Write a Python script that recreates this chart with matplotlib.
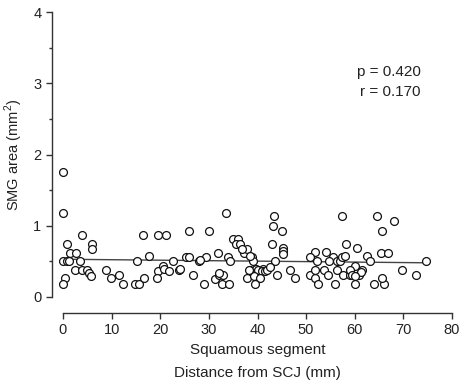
import matplotlib
matplotlib.use('Agg')
import matplotlib.pyplot as plt
import numpy as np

plt.rcParams['font.family'] = ['Liberation Sans', 'DejaVu Sans']
plt.rcParams['mathtext.fontset'] = 'custom'
plt.rcParams['mathtext.rm'] = 'Liberation Sans'

# distance from SCJ (mm) and SMG area (mm2)
dist = [0, 0, 3.9, 0.9, 6.0, 6.0, 1.4, 2.7, 0, 0.75, 1.2, 3.5, 2.4, 4.0, 4.9, 5.3,
        5.8, 0.5, 0, 8.8, 9.9, 11.5, 12.4, 14.9, 15.6, 16.7, 15.3, 16.4, 17.6, 19.5,
        21.2, 26.0, 30.0, 33.5, 22.7, 25.2, 25.9, 27.9, 29.4, 31.9, 34.0, 34.4, 35.0,
        35.9, 35.6, 36.4, 37.2, 37.8, 19.5, 20.5, 20.7, 21.9, 23.9, 19.3, 26.7, 28.9,
        31.2, 32.0, 32.9, 32.6, 34.1, 37.8, 43.4, 43.1, 45.1, 57.4, 58.1, 43.0, 45.3,
        45.3, 45.2, 38.9, 39.0, 43.7, 51.9, 54.1, 50.8, 52.2, 55.6, 54.8, 56.4, 57.0,
        57.4, 38.5, 39.6, 40.2, 41.2, 40.9, 41.5, 41.9, 42.6, 39.2, 40.5, 39.4, 44.1,
        46.6, 47.7, 50.7, 51.9, 52.5, 51.8, 53.6, 54.5, 56.4, 57.5, 56.0, 59.1, 64.5,
        68.0, 65.7, 60.5, 65.4, 66.8, 62.6, 63.1, 74.6, 58.0, 60.1, 59.0, 61.4, 59.5,
        60.8, 61.2, 60.1, 60.1, 63.9, 66.1, 65.6, 69.7, 72.6, 38.5, 38.2, 36.8, 32.0,
        28.2, 24.1]
area = [1.75, 1.18, 0.875, 0.74, 0.74, 0.68, 0.62, 0.62, 0.50, 0.50, 0.50, 0.50, 0.38,
        0.38, 0.38, 0.33, 0.30, 0.26, 0.18, 0.38, 0.26, 0.31, 0.18, 0.18, 0.18, 0.26,
        0.50, 0.875, 0.57, 0.875, 0.875, 0.93, 0.93, 1.18, 0.51, 0.56, 0.56, 0.50,
        0.56, 0.62, 0.56, 0.50, 0.81, 0.81, 0.74, 0.74, 0.62, 0.68, 0.37, 0.43, 0.40,
        0.37, 0.38, 0.26, 0.31, 0.18, 0.25, 0.31, 0.31, 0.18, 0.18, 0.26, 1.13, 1.00,
        0.93, 1.13, 0.75, 0.75, 0.69, 0.64, 0.61, 0.56, 0.51, 0.51, 0.63, 0.63, 0.56,
        0.51, 0.56, 0.50, 0.50, 0.50, 0.56, 0.38, 0.40, 0.38, 0.40, 0.36, 0.36, 0.38,
        0.42, 0.29, 0.26, 0.18, 0.31, 0.38, 0.26, 0.31, 0.26, 0.18, 0.38, 0.38, 0.31,
        0.38, 0.31, 0.18, 0.31, 1.13, 1.06, 0.93, 0.69, 0.62, 0.62, 0.57, 0.50, 0.50,
        0.57, 0.44, 0.38, 0.38, 0.31, 0.31, 0.35, 0.30, 0.18, 0.18, 0.18, 0.26, 0.38,
        0.31, 0.58, 0.38, 0.68, 0.34, 0.52, 0.39]

# regression line end points
fit_x = [0, 75]
fit_y = [0.53, 0.48]

stats_text = ['p = 0.420', 'r = 0.170']

fig = plt.figure(figsize=(4.6, 3.84), dpi=100)
ax = fig.add_axes([63 / 460, 1 - 297 / 384, (452 - 63) / 460, (297 - 12) / 384])

ax.plot(fit_x, fit_y, color='#444444', lw=1.0, zorder=2)
ax.scatter(dist, area, s=32, facecolors='white', edgecolors='#111111',
           linewidths=0.9, clip_on=False, zorder=3)

ax.set_xlim(0, 80)
ax.set_ylim(0, 4)
ax.set_xticks(np.arange(0, 81, 10))
ax.set_yticks(np.arange(0, 5, 1))
ax.set_yticks(np.arange(0.5, 4, 1), minor=True)

for s in ['top', 'right']:
    ax.spines[s].set_visible(False)
ax.spines['left'].set_position(('outward', 8))
ax.spines['bottom'].set_position(('outward', 11.5))
ax.spines['left'].set_bounds(0, 4)
ax.spines['bottom'].set_bounds(0, 80)
for s in ['left', 'bottom']:
    ax.spines[s].set_color('#333333')
    ax.spines[s].set_linewidth(1.0)

ax.tick_params(axis='both', which='major', length=4, width=1, color='#333333',
               labelsize=10.5, labelcolor='#222222')
ax.tick_params(axis='y', which='minor', length=2.5, width=1, color='#333333')

ax.set_ylabel('SMG area (mm$^2$)', fontsize=10.5, color='#222222')
ax.yaxis.set_label_coords(-0.097, 0.5)

ax.text(0.5, -0.186, 'Squamous segment', transform=ax.transAxes, ha='center',
        va='center', fontsize=11, color='#222222')
ax.text(0.5, -0.268, 'Distance from SCJ (mm)', transform=ax.transAxes, ha='center',
        va='center', fontsize=11, color='#222222')

ax.text(73.5, 3.16, stats_text[0], ha='right', va='center', fontsize=11, color='#222222')
ax.text(73.5, 2.88, stats_text[1], ha='right', va='center', fontsize=11, color='#222222')

fig.savefig('out.png', dpi=100)
